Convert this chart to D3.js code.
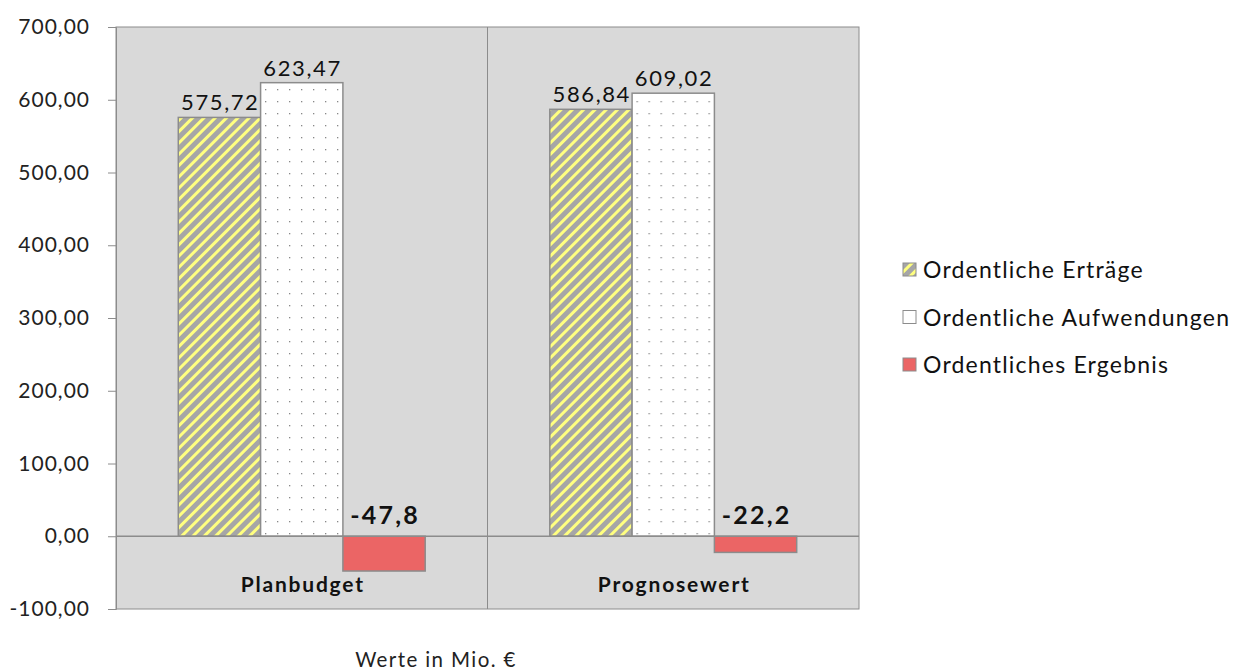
<!DOCTYPE html>
<html>
<head>
<meta charset="utf-8">
<script src="https://cdn.jsdelivr.net/npm/d3@7"></script>
<style>
  body { margin: 0; background: #fff; }
  text { font-family: Lato, "Open Sans", sans-serif; }
</style>
</head>
<body>
<div id="chart"></div>
<script>
const categories = ["Planbudget", "Prognosewert"];
const seriesNames = ["Ordentliche Erträge", "Ordentliche Aufwendungen", "Ordentliches Ergebnis"];
const ertraege = [575.72, 586.84];
const aufwendungen = [623.47, 609.02];
const ergebnis = [-47.8, -22.2];
const yTicks = [-100, 0, 100, 200, 300, 400, 500, 600, 700];

const W = 1242, H = 671;
const plot = {left: 116, right: 859, top: 27, bottom: 609};
const fmt2 = v => d3.format(".2f")(v).replace(".", ",").replace("−", "-");
const fmt1 = v => d3.format(".1f")(v).replace(".", ",").replace("−", "-");

const svg = d3.select("#chart").append("svg")
  .attr("width", W).attr("height", H);

const defs = svg.append("defs");
const hatch = defs.append("pattern")
  .attr("id", "hatch").attr("patternUnits", "userSpaceOnUse")
  .attr("width", 8).attr("height", 8)
  .attr("patternTransform", "rotate(45)");
hatch.append("rect").attr("width", 8).attr("height", 8).attr("fill", "#a6a6a6");
hatch.append("rect").attr("x", 0).attr("width", 3).attr("height", 8).attr("fill", "#ffff80");

const dots = defs.append("pattern")
  .attr("id", "dots").attr("patternUnits", "userSpaceOnUse")
  .attr("width", 12).attr("height", 12);
dots.append("rect").attr("width", 12).attr("height", 12).attr("fill", "#fff");
dots.append("rect").attr("x", 5).attr("y", 5).attr("width", 1.3).attr("height", 1.3).attr("fill", "#888");

const fills = ["url(#hatch)", "url(#dots)", "#eb6565"];

const x0 = d3.scaleBand().domain(categories).range([plot.left, plot.right]);
const x1 = d3.scaleBand().domain(seriesNames)
  .range([0, x0.bandwidth()]).paddingOuter(0.757);
const y = d3.scaleLinear().domain([-100, 700]).range([plot.bottom, plot.top]);

// plot background
svg.append("rect")
  .attr("x", plot.left).attr("y", plot.top)
  .attr("width", plot.right - plot.left).attr("height", plot.bottom - plot.top)
  .attr("fill", "#d9d9d9").attr("stroke", "#8c8c8c");

// category separator
svg.append("line")
  .attr("x1", x0("Prognosewert")).attr("x2", x0("Prognosewert"))
  .attr("y1", plot.top).attr("y2", plot.bottom)
  .attr("stroke", "#8c8c8c");

// y axis
const yAxis = svg.append("g")
  .attr("transform", `translate(${plot.left},0)`)
  .call(d3.axisLeft(y).tickValues(yTicks).tickSize(8).tickPadding(18)
    .tickFormat(fmt2));
yAxis.select(".domain").attr("stroke", "#8c8c8c");
yAxis.selectAll(".tick line").attr("stroke", "#8c8c8c");
yAxis.selectAll(".tick text").attr("font-size", 21).attr("fill", "#222")
  .attr("font-family", "Lato, sans-serif").attr("letter-spacing", 1);

const rows = categories.map((c, i) => ({
  cat: c, vals: [ertraege[i], aufwendungen[i], ergebnis[i]]
}));

const groups = svg.append("g").selectAll("g").data(rows).join("g")
  .attr("transform", d => `translate(${x0(d.cat)},0)`);

groups.selectAll("rect")
  .data(d => d.vals.map((v, j) => ({key: seriesNames[j], v, j})))
  .join("rect")
  .attr("x", d => x1(d.key))
  .attr("width", x1.bandwidth())
  .attr("y", d => y(Math.max(0, d.v)))
  .attr("height", d => Math.abs(y(d.v) - y(0)))
  .attr("fill", d => fills[d.j])
  .attr("stroke", "#8c8c8c").attr("stroke-width", 1.5);

// zero line
svg.append("line")
  .attr("x1", plot.left).attr("x2", plot.right)
  .attr("y1", y(0)).attr("y2", y(0))
  .attr("stroke", "#8c8c8c").attr("stroke-width", 1.5);

// value labels
groups.selectAll("text.val")
  .data(d => d.vals.map((v, j) => ({key: seriesNames[j], v, j})))
  .join("text").attr("class", "val")
  .attr("x", d => x1(d.key) + x1.bandwidth() / 2 + (d.v > 0 ? 0.8 : 1))
  .attr("y", d => d.v > 0 ? y(d.v) - 7 : y(0) - 12)
  .attr("text-anchor", "middle")
  .attr("font-size", d => d.v > 0 ? 22 : 25)
  .attr("letter-spacing", d => d.v > 0 ? 1.6 : 2.2)
  .attr("font-weight", d => d.v > 0 ? "normal" : "bold")
  .attr("fill", "#111")
  .text(d => d.v > 0 ? fmt2(d.v) : fmt1(d.v));

// category labels
svg.append("g").selectAll("text").data(categories).join("text")
  .attr("x", d => x0(d) + x0.bandwidth() / 2 + 1)
  .attr("y", 592)
  .attr("text-anchor", "middle")
  .attr("font-size", 21).attr("letter-spacing", 1.8)
  .attr("font-weight", "bold").attr("fill", "#111")
  .text(d => d);

// legend
const legend = svg.append("g").selectAll("g").data(seriesNames).join("g")
  .attr("transform", (d, i) => `translate(903,${270 + i * 47.5})`);
legend.append("rect")
  .attr("x", 0).attr("y", -7).attr("width", 13).attr("height", 13)
  .attr("fill", (d, i) => i === 1 ? "#fff" : fills[i])
  .attr("stroke", "#8c8c8c");
legend.append("text")
  .attr("x", 20).attr("dy", "0.35em")
  .attr("font-size", 23).attr("letter-spacing", 1.2).attr("fill", "#111")
  .text(d => d);

// footnote
svg.append("text")
  .attr("x", 436).attr("y", 667)
  .attr("text-anchor", "middle")
  .attr("font-size", 20.5).attr("letter-spacing", 1.4).attr("fill", "#222")
  .text("Werte in Mio. €");
</script>
</body>
</html>
